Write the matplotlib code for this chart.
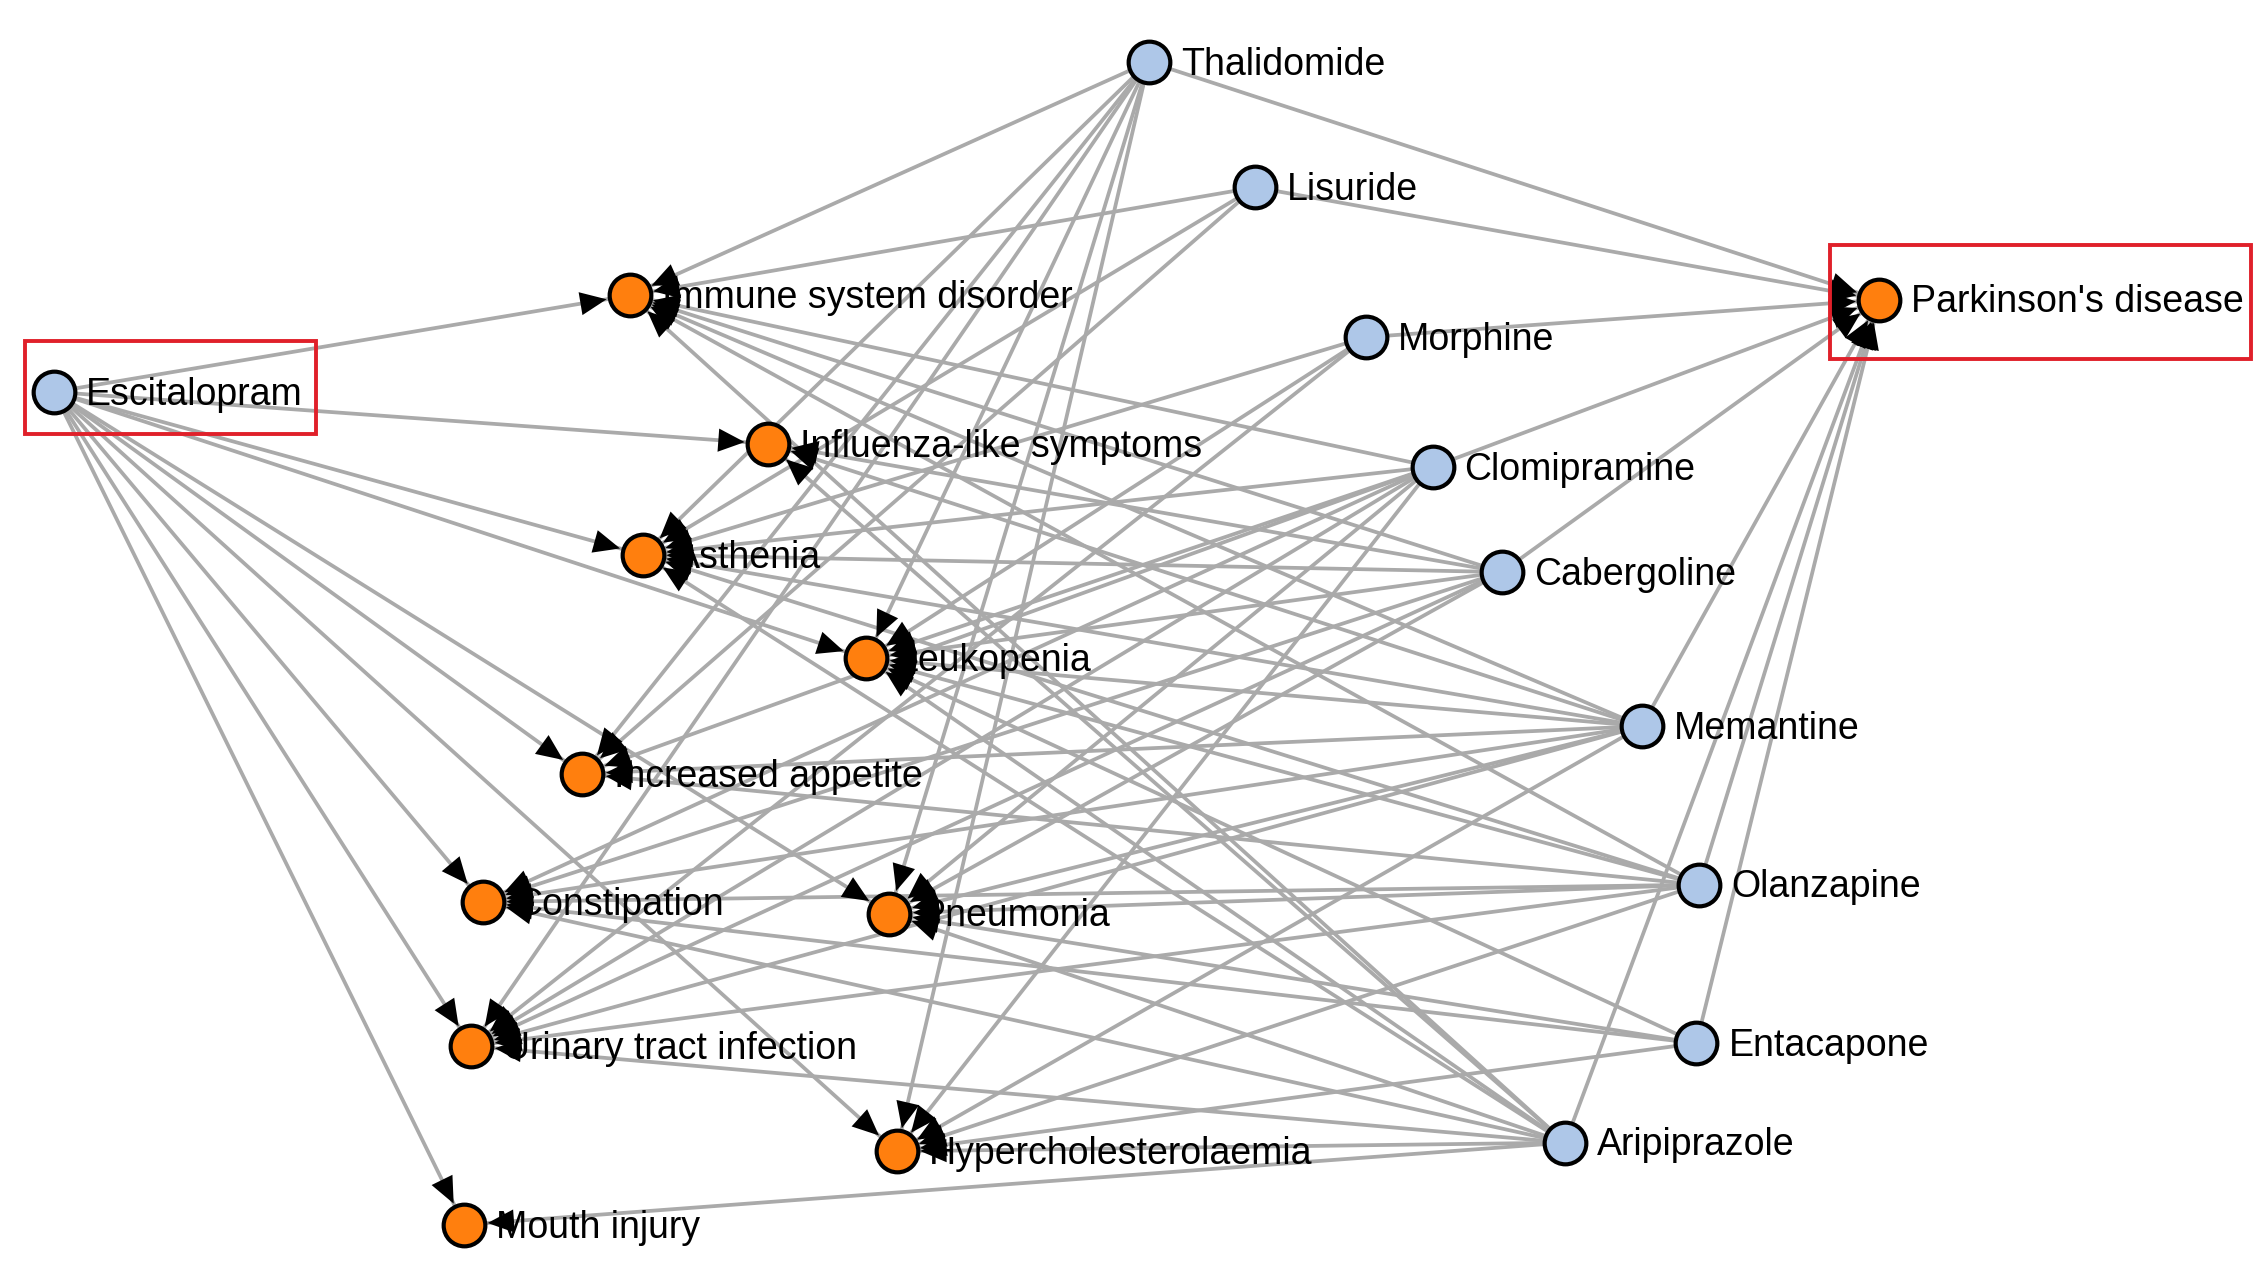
import matplotlib
matplotlib.use("Agg")
import matplotlib.pyplot as plt
from matplotlib.patches import Rectangle

# drugs (blue) and effects/disease (orange)
drugs = ["Escitalopram", "Thalidomide", "Lisuride", "Morphine", "Clomipramine",
         "Cabergoline", "Memantine", "Olanzapine", "Entacapone", "Aripiprazole"]
effects = ["Parkinson's disease", "Immune system disorder", "Influenza-like symptoms",
           "Asthenia", "Leukopenia", "Increased appetite", "Constipation", "Pneumonia",
           "Urinary tract infection", "Hypercholesterolaemia", "Mouth injury"]

# node layout (picture units, y downwards)
layout = {
    "Escitalopram": (37.5, 272), "Thalidomide": (797, 43), "Lisuride": (871, 130),
    "Morphine": (948, 234), "Clomipramine": (994, 324), "Cabergoline": (1042, 397),
    "Memantine": (1139, 504), "Olanzapine": (1179, 614), "Entacapone": (1177, 724),
    "Aripiprazole": (1086, 793),
    "Parkinson's disease": (1304, 208), "Immune system disorder": (437, 205),
    "Influenza-like symptoms": (533, 308), "Asthenia": (446, 385),
    "Leukopenia": (601, 457), "Increased appetite": (404, 537),
    "Constipation": (335, 626), "Pneumonia": (617, 634),
    "Urinary tract infection": (327, 726), "Hypercholesterolaemia": (622, 799),
    "Mouth injury": (322, 850),
}

links = {
    "Escitalopram": ["Immune system disorder", "Influenza-like symptoms", "Asthenia",
                     "Leukopenia", "Increased appetite", "Constipation", "Pneumonia",
                     "Urinary tract infection", "Hypercholesterolaemia", "Mouth injury"],
    "Thalidomide": ["Immune system disorder", "Asthenia", "Leukopenia", "Increased appetite",
                    "Pneumonia", "Hypercholesterolaemia", "Urinary tract infection",
                    "Parkinson's disease"],
    "Lisuride": ["Immune system disorder", "Asthenia", "Increased appetite",
                 "Parkinson's disease"],
    "Morphine": ["Asthenia", "Leukopenia", "Urinary tract infection", "Parkinson's disease"],
    "Clomipramine": ["Immune system disorder", "Asthenia", "Leukopenia", "Increased appetite",
                     "Constipation", "Urinary tract infection", "Pneumonia",
                     "Hypercholesterolaemia", "Parkinson's disease"],
    "Cabergoline": ["Immune system disorder", "Influenza-like symptoms", "Asthenia",
                    "Leukopenia", "Constipation", "Urinary tract infection", "Pneumonia",
                    "Parkinson's disease"],
    "Memantine": ["Immune system disorder", "Influenza-like symptoms", "Asthenia",
                  "Leukopenia", "Increased appetite", "Constipation", "Pneumonia",
                  "Urinary tract infection", "Hypercholesterolaemia", "Parkinson's disease"],
    "Olanzapine": ["Immune system disorder", "Asthenia", "Leukopenia", "Increased appetite",
                   "Constipation", "Pneumonia", "Urinary tract infection",
                   "Hypercholesterolaemia", "Parkinson's disease"],
    "Entacapone": ["Leukopenia", "Constipation", "Pneumonia", "Hypercholesterolaemia",
                   "Parkinson's disease"],
    "Aripiprazole": ["Immune system disorder", "Influenza-like symptoms", "Asthenia",
                     "Leukopenia", "Constipation", "Pneumonia", "Urinary tract infection",
                     "Hypercholesterolaemia", "Mouth injury", "Parkinson's disease"],
}

highlighted = ["Escitalopram", "Parkinson's disease"]

plt.rcParams['font.family'] = ['Liberation Sans', 'DejaVu Sans']

fig = plt.figure(figsize=(22.6, 12.68), dpi=100)
ax = fig.add_axes([0, 0, 1, 1])
ax.set_xlim(0, 1568)
ax.set_ylim(880, 0)
ax.axis("off")

# edges
for src, targets in links.items():
    x0, y0 = layout[src]
    for t in targets:
        x1, y1 = layout[t]
        ax.plot([x0, x1], [y0, y1], color="#aaaaaa", lw=2.7, zorder=1,
                solid_capstyle="butt")
        ax.annotate("", xy=(x1, y1), xytext=(x0, y0),
                    arrowprops=dict(arrowstyle="-|>,head_length=0.5,head_width=0.22",
                                    color="black", lw=0,
                                    mutation_scale=38, shrinkA=0, shrinkB=17),
                    zorder=4)

# labels
for name, (x, y) in layout.items():
    ax.annotate(name, xy=(x, y), xytext=(23, -2), textcoords="offset points",
                fontsize=27, va="center", ha="left", color="black", zorder=2)

# nodes
ax.scatter([layout[d][0] for d in drugs], [layout[d][1] for d in drugs],
           s=900, c="#aec7e8", edgecolors="black", linewidths=3, zorder=3)
ax.scatter([layout[e][0] for e in effects], [layout[e][1] for e in effects],
           s=900, c="#ff7f0e", edgecolors="black", linewidths=3, zorder=3)

# red boxes around query pair: (left, right, top, bottom) offsets from node
box_pad = {"Escitalopram": (-20, 182, -35, 29), "Parkinson's disease": (-34, 258, -38, 41)}
for name in highlighted:
    x, y = layout[name]
    l, r, t, b = box_pad[name]
    ax.add_patch(Rectangle((x + l, y + t), r - l, b - t, fill=False,
                           edgecolor="#e0202a", lw=2.8, zorder=5))

fig.savefig("out.png", dpi=100)
